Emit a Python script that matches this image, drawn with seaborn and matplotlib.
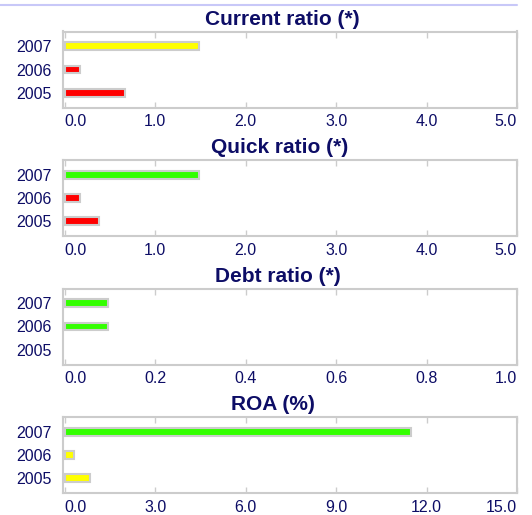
import numpy as np
import pandas as pd
import matplotlib.pyplot as plt
from matplotlib.lines import Line2D
import seaborn as sns

# values
years = ['2007', '2006', '2005']
titles = ['Current ratio (*)', 'Quick ratio (*)', 'Debt ratio (*)', 'ROA (%)']

current_ratio = [1.48, 0.17, 0.67]
quick_ratio = [1.48, 0.17, 0.38]
debt_ratio = [0.095, 0.095, np.nan]
roa = [11.48, 0.30, 0.82]

current_colors = ['#ffff00', '#ff0000', '#ff0000']
quick_colors = ['#33ff00', '#ff0000', '#ff0000']
debt_colors = ['#33ff00', '#33ff00', '#33ff00']
roa_colors = ['#33ff00', '#ffff00', '#ffff00']

x_max = [5.0, 5.0, 1.0, 15.0]
x_step = [1.0, 1.0, 0.2, 3.0]

series = [current_ratio, quick_ratio, debt_ratio, roa]
colors = [current_colors, quick_colors, debt_colors, roa_colors]

navy = '#0d0d66'
grey = '#cccccc'

sns.set_style('white')
plt.rcParams['font.family'] = ['Liberation Sans', 'DejaVu Sans']

W, H = 532, 515
fig = plt.figure(figsize=(W / 100, H / 100), dpi=100)

# axes placement in pixels (bottom edge of each panel)
bottoms = [107.5, 236, 364.5, 493]
title_centers = [282.5, 280, 278, 273]
left, width, height = 63, 454, 76

for i in range(4):
    ax = fig.add_axes([left / W, 1 - bottoms[i] / H, width / W, height / H])
    df = pd.DataFrame({'year': years, 'value': series[i]})
    sns.barplot(data=df, x='value', y='year', hue='year', order=years, hue_order=years,
                palette=dict(zip(years, colors[i])), legend=False, orient='h',
                saturation=1, width=0.34, edgecolor=grey, linewidth=1.5, ax=ax)

    ax.set_xlim(-0.004 * x_max[i], x_max[i])
    ax.set_ylim(2.64, -0.64)
    ticks = np.arange(0, x_max[i] + x_step[i] / 2, x_step[i])
    ax.set_xticks(ticks)
    labels = ax.set_xticklabels(['%.1f' % t for t in ticks])
    labels[0].set_horizontalalignment('left')
    labels[-1].set_horizontalalignment('right')
    ax.set_xlabel('')
    ax.set_ylabel('')

    ax.tick_params(axis='x', direction='in', top=True, bottom=True, length=4, width=1,
                   color=grey, labelsize=11.5, labelcolor=navy, pad=5)
    ax.tick_params(axis='y', length=0, labelsize=11.5, labelcolor=navy, pad=8)
    for s in ax.spines.values():
        s.set_color(grey)
        s.set_linewidth(1.5)

    ax.set_title(titles[i], fontsize=15, fontweight='bold', color=navy, pad=5,
                 x=(title_centers[i] - left) / width)

# thin lavender rule along the top
fig.add_artist(Line2D([0, 517 / W], [1 - 4.5 / H, 1 - 4.5 / H], color='#c8c8f8',
                      lw=1.5, transform=fig.transFigure))

plt.savefig('out.png', dpi=100)
